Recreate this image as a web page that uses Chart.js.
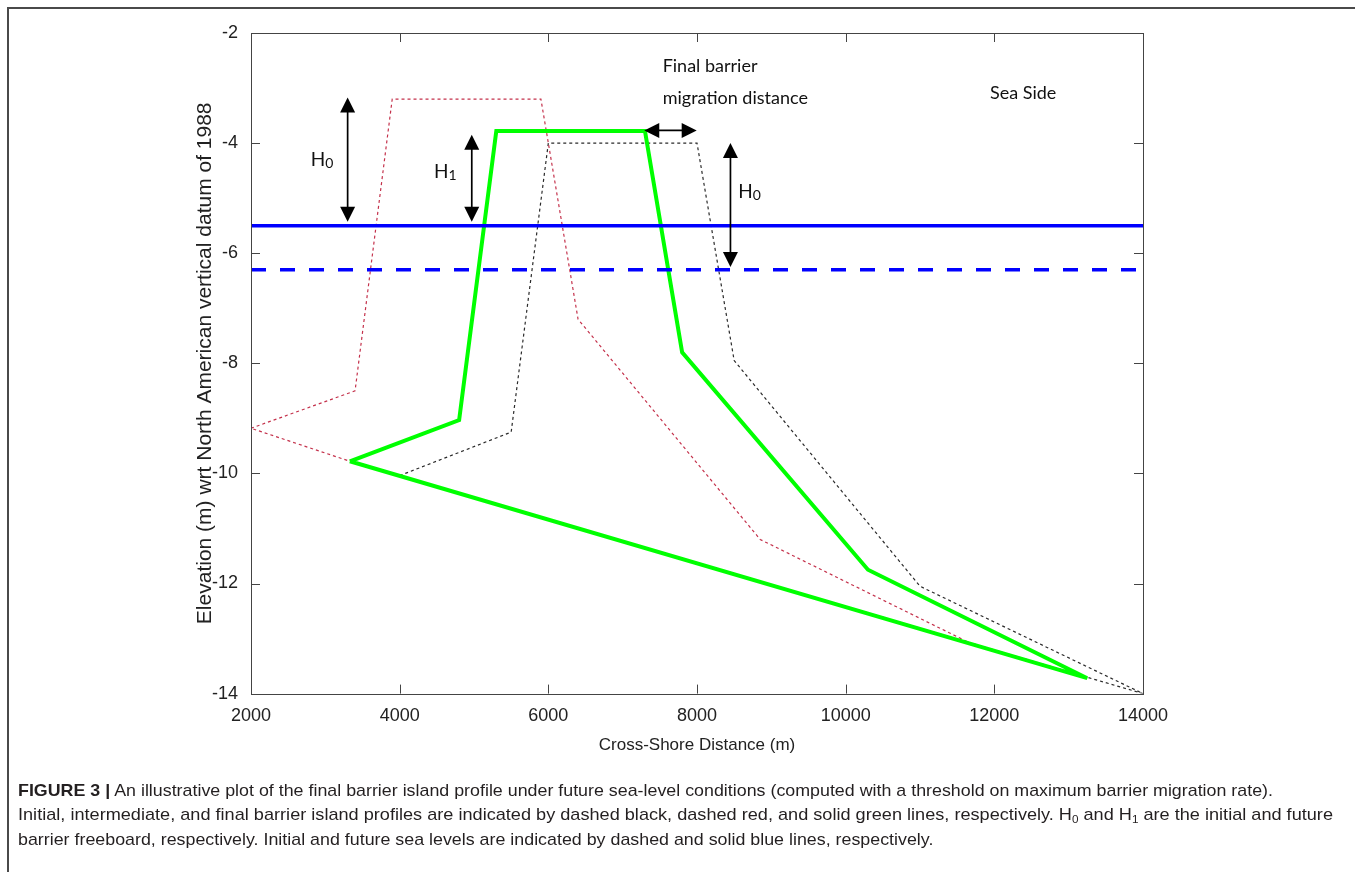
<!DOCTYPE html>
<html>
<head>
<meta charset="utf-8">
<script src="https://cdn.jsdelivr.net/npm/chart.js@4.4.1/dist/chart.umd.min.js"></script>
<style>
html,body{margin:0;padding:0;background:#fff;width:1355px;height:872px;overflow:hidden;}
#chart{position:absolute;left:0;top:0;}
#frameTop{position:absolute;left:7px;top:7px;width:1348px;height:2px;background:#4a4a4a;}
#frameLeft{position:absolute;left:7px;top:7px;width:2px;height:865px;background:#4a4a4a;}
.cap{position:absolute;left:18px;font-family:"Liberation Sans Narrow","Liberation Sans",Arial,sans-serif;font-size:17px;line-height:20px;color:#231f20;white-space:nowrap;transform-origin:0 50%;}
.cap b{font-weight:bold;}
.cap sub{font-size:11px;vertical-align:-3px;line-height:0;}
</style>
</head>
<body>
<div id="frameTop"></div>
<div id="frameLeft"></div>
<canvas id="chart" width="1355" height="872"></canvas>
<div class="cap" id="cap1" style="top:781px"><b>FIGURE 3 |</b> An illustrative plot of the final barrier island profile under future sea-level conditions (computed with a threshold on maximum barrier migration rate).</div>
<div class="cap" id="cap2" style="top:805px">Initial, intermediate, and final barrier island profiles are indicated by dashed black, dashed red, and solid green lines, respectively. H<sub>0</sub> and H<sub>1</sub> are the initial and future</div>
<div class="cap" id="cap3" style="top:830px">barrier freeboard, respectively. Initial and future sea levels are indicated by dashed and solid blue lines, respectively.</div>
<script>
// ---- data ----
const xTicks = [2000, 4000, 6000, 8000, 10000, 12000, 14000];
const yTicks = [-2, -4, -6, -8, -10, -12, -14];

const initialX = [4000, 5500, 6000, 8000, 8500, 11000, 14000, 4000];
const initialY = [-10.04, -9.25, -4.0, -4.0, -7.95, -12.05, -14.0, -10.04];

const interX = [2000, 3400, 3900, 5900, 6400, 8850, 11700, 3330, 2000];
const interY = [-9.18, -8.5, -3.2, -3.2, -7.2, -11.2, -13.1, -9.78, -9.18];

const finalX = [3330, 4800, 5300, 7300, 7800, 10300, 13250, 3330];
const finalY = [-9.78, -9.03, -3.78, -3.78, -7.8, -11.75, -13.72, -9.78];

const seaX = [2000, 14000];
const futureSeaY = [-5.5, -5.5];
const initialSeaY = [-6.3, -6.3];

const arrowFromX = [3300, 4970, 8450, 7290];
const arrowFromY = [-3.17, -3.85, -4.0, -3.77];
const arrowToX = [3300, 4970, 8450, 7996];
const arrowToY = [-5.43, -5.43, -6.25, -3.77];

const noteText = ['Final barrier', 'migration distance', 'Sea Side'];
const noteX = [7538, 7538, 11941];
const noteY = [-2.61, -3.18, -3.09];

const hSub = ['0', '1', '0'];
const hX = [2817, 4475, 8569];
const hY = [-4.31, -4.53, -4.885];

// ---- helpers ----
const pts = (xs, ys) => xs.map((v, i) => ({x: v, y: ys[i]}));

const overlay = {
  id: 'overlay',
  afterDatasetsDraw(chart) {
    const {ctx, chartArea: a, scales: {x, y}} = chart;
    ctx.save();
    ctx.strokeStyle = '#444';
    ctx.lineWidth = 1;
    ctx.setLineDash([]);
    ctx.strokeRect(Math.round(a.left) + 0.5, Math.round(a.top) + 0.5,
                   Math.round(a.right - a.left), Math.round(a.bottom - a.top));
    const tl = 9;
    ctx.beginPath();
    xTicks.forEach(v => {
      const px = Math.round(x.getPixelForValue(v)) + 0.5;
      ctx.moveTo(px, a.bottom); ctx.lineTo(px, a.bottom - tl);
      ctx.moveTo(px, a.top); ctx.lineTo(px, a.top + tl);
    });
    yTicks.forEach(v => {
      const py = Math.round(y.getPixelForValue(v)) + 0.5;
      ctx.moveTo(a.left, py); ctx.lineTo(a.left + tl, py);
      ctx.moveTo(a.right, py); ctx.lineTo(a.right - tl, py);
    });
    ctx.stroke();

    // arrows
    ctx.strokeStyle = '#000';
    ctx.fillStyle = '#000';
    ctx.lineWidth = 1.7;
    const head = (tx, ty, ang) => {
      const L = 15, W = 7.5;
      ctx.beginPath();
      ctx.moveTo(tx, ty);
      ctx.lineTo(tx - L * Math.cos(ang) + W * Math.sin(ang), ty - L * Math.sin(ang) - W * Math.cos(ang));
      ctx.lineTo(tx - L * Math.cos(ang) - W * Math.sin(ang), ty - L * Math.sin(ang) + W * Math.cos(ang));
      ctx.closePath();
      ctx.fill();
    };
    arrowFromX.forEach((fx, i) => {
      const x1 = x.getPixelForValue(fx), y1 = y.getPixelForValue(arrowFromY[i]);
      const x2 = x.getPixelForValue(arrowToX[i]), y2 = y.getPixelForValue(arrowToY[i]);
      const ang = Math.atan2(y2 - y1, x2 - x1);
      ctx.beginPath();
      ctx.moveTo(x1 + 10 * Math.cos(ang), y1 + 10 * Math.sin(ang));
      ctx.lineTo(x2 - 10 * Math.cos(ang), y2 - 10 * Math.sin(ang));
      ctx.stroke();
      head(x2, y2, ang);
      head(x1, y1, ang + Math.PI);
    });

    // notes
    ctx.fillStyle = '#111';
    ctx.textBaseline = 'middle';
    ctx.textAlign = 'left';
    ctx.font = '18px Lato, "Open Sans", sans-serif';
    noteText.forEach((t, i) => {
      ctx.fillText(t, x.getPixelForValue(noteX[i]), y.getPixelForValue(noteY[i]));
    });
    hSub.forEach((s, i) => {
      const px = x.getPixelForValue(hX[i]), py = y.getPixelForValue(hY[i]);
      ctx.font = '19px Lato, "Open Sans", sans-serif';
      ctx.fillText('H', px - 1, py);
      const w = ctx.measureText('H').width;
      ctx.font = '14px Lato, "Open Sans", sans-serif';
      ctx.fillText(s, px - 1 + w, py + 3.5);
    });
    ctx.restore();
  }
};

const line = (label, xs, ys, color, width, dash, order) => ({
  label, data: pts(xs, ys), showLine: true, pointRadius: 0, pointHoverRadius: 0,
  borderColor: color, backgroundColor: color, borderWidth: width,
  borderDash: dash, fill: false, tension: 0, borderJoinStyle: 'miter', order
});

new Chart(document.getElementById('chart'), {
  type: 'scatter',
  data: {
    datasets: [
      line('Initial profile', initialX, initialY, '#2a2a2a', 1.2, [3, 3], 5),
      line('Intermediate profile', interX, interY, '#c4314b', 1.2, [3, 3], 4),
      line('Final profile', finalX, finalY, '#00ff00', 4, [], 3),
      line('Initial sea level', seaX, initialSeaY, '#0000ff', 3.5, [15, 14], 2),
      line('Future sea level', seaX, futureSeaY, '#0000ff', 3.5, [], 1)
    ]
  },
  options: {
    responsive: false,
    animation: false,
    devicePixelRatio: 1,
    layout: {padding: {left: 192.4, right: 212, top: 33, bottom: 116.2}},
    plugins: {legend: {display: false}, tooltip: {enabled: false}},
    events: [],
    scales: {
      x: {
        type: 'linear', min: 2000, max: 14000,
        grid: {display: false, drawTicks: false},
        border: {display: false},
        afterBuildTicks: s => { s.ticks = xTicks.map(v => ({value: v})); },
        afterFit: s => { s.height = 62.2; },
        ticks: {color: '#222', padding: 12, maxRotation: 0, autoSkip: false,
                font: {family: '"Liberation Sans", Arial, sans-serif', size: 18},
                callback: v => String(v)},
        title: {display: true, text: 'Cross-Shore Distance (m)', color: '#222',
                padding: {top: 0, bottom: 0},
                font: {family: '"Liberation Sans", Arial, sans-serif', size: 17}}
      },
      y: {
        type: 'linear', min: -14, max: -2,
        grid: {display: false, drawTicks: false},
        border: {display: false},
        afterBuildTicks: s => { s.ticks = yTicks.map(v => ({value: v})); },
        afterFit: s => { s.width = 58.6; },
        ticks: {color: '#222', padding: 13, autoSkip: false,
                font: {family: '"Liberation Sans", Arial, sans-serif', size: 18},
                callback: v => String(v)},
        title: {display: true, text: 'Elevation (m) wrt North American vertical datum of 1988', color: '#222',
                padding: {top: 0, bottom: 0},
                font: {family: '"Liberation Sans", Arial, sans-serif', size: 21}}
      }
    }
  },
  plugins: [overlay]
});

// caption: horizontal condensing so each line spans like the original
const capTargets = {cap1: 1255, cap2: 1315};
const w1 = document.getElementById('cap1').getBoundingClientRect().width;
const baseScale = 1255 / w1;
['cap1', 'cap2', 'cap3'].forEach(id => {
  const el = document.getElementById(id);
  const s = capTargets[id] ? capTargets[id] / el.getBoundingClientRect().width : baseScale;
  el.style.transform = 'scaleX(' + s + ')';
});
</script>
</body>
</html>
